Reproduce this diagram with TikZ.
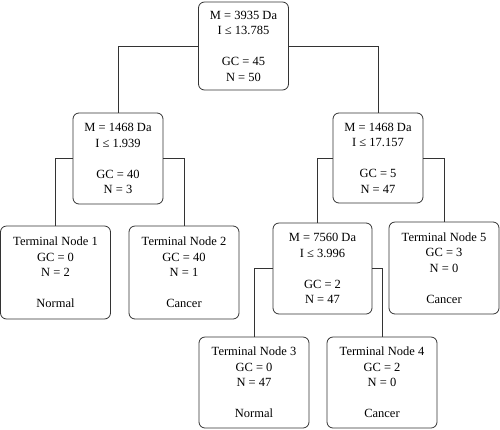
\documentclass[tikz,border=0pt]{standalone}
\usepackage{fontspec}
\setmainfont{Liberation Serif}

\begin{document}
\begin{tikzpicture}[x=1pt, y=-1pt,% styles used in the tree
split/.style = {draw=black!80, line width=0.8pt, rounded corners=6pt,
                align=center, inner sep=0pt,
                minimum width=90pt, minimum height=91pt,
                font=\fontsize{12.5}{15.5}\selectfont},
 leaf/.style = {split, minimum width=110pt},
 link/.style = {draw=black!80, line width=0.8pt}
                    ]
	\useasboundingbox (0,0) rectangle (500,429);

	% split nodes
	\node[split, minimum height=88pt] (root) at (243.5,46)
		{M = 3935 Da\\ I ≤ 13.785\\[15.5pt] GC = 45\\ N = 50};
	\node[split] (left) at (118,158.5)
		{M = 1468 Da\\ I ≤ 1.939\\[15.5pt] GC = 40\\ N = 3};
	\node[split, minimum height=90pt] (right) at (378,158)
		{M = 1468 Da\\ I ≤ 17.157\\[15.5pt] GC = 5\\ N = 47};
	\node[split, minimum width=99pt] (mid) at (322.5,268.5)
		{M = 7560 Da\\ I ≤ 3.996\\[15.5pt] GC = 2\\ N = 47};

	% terminal nodes
	\node[leaf, minimum height=93pt] (t1) at (55.5,272.5)
		{Terminal Node 1\\ GC = 0\\ N = 2\\[15.5pt] Normal};
	\node[leaf, minimum height=93pt] (t2) at (184,272.5)
		{Terminal Node 2\\ GC = 40\\ N = 1\\[15.5pt] Cancer};
	\node[leaf, minimum height=92pt] (t5) at (444,268)
		{Terminal Node 5\\ GC = 3\\ N = 0\\[15.5pt] Cancer};
	\node[leaf] (t3) at (254,382.5)
		{Terminal Node 3\\ GC = 0\\ N = 47\\[15.5pt] Normal};
	\node[leaf] (t4) at (382,382.5)
		{Terminal Node 4\\ GC = 2\\ N = 0\\[15.5pt] Cancer};

	% branches
	\draw[link] (root.west) -| (left.north);
	\draw[link] (root.east) -| (right.north);
	\draw[link] (left.west) -| (t1.north);
	\draw[link] (left.east) -| (t2.north);
	\draw[link] (right.west) -| ([xshift=-5pt]mid.north);
	\draw[link] (right.east) -| (t5.north);
	\draw[link] (mid.west) -| (t3.north);
	\draw[link] (mid.east) -| (t4.north);
\end{tikzpicture}
\end{document}
